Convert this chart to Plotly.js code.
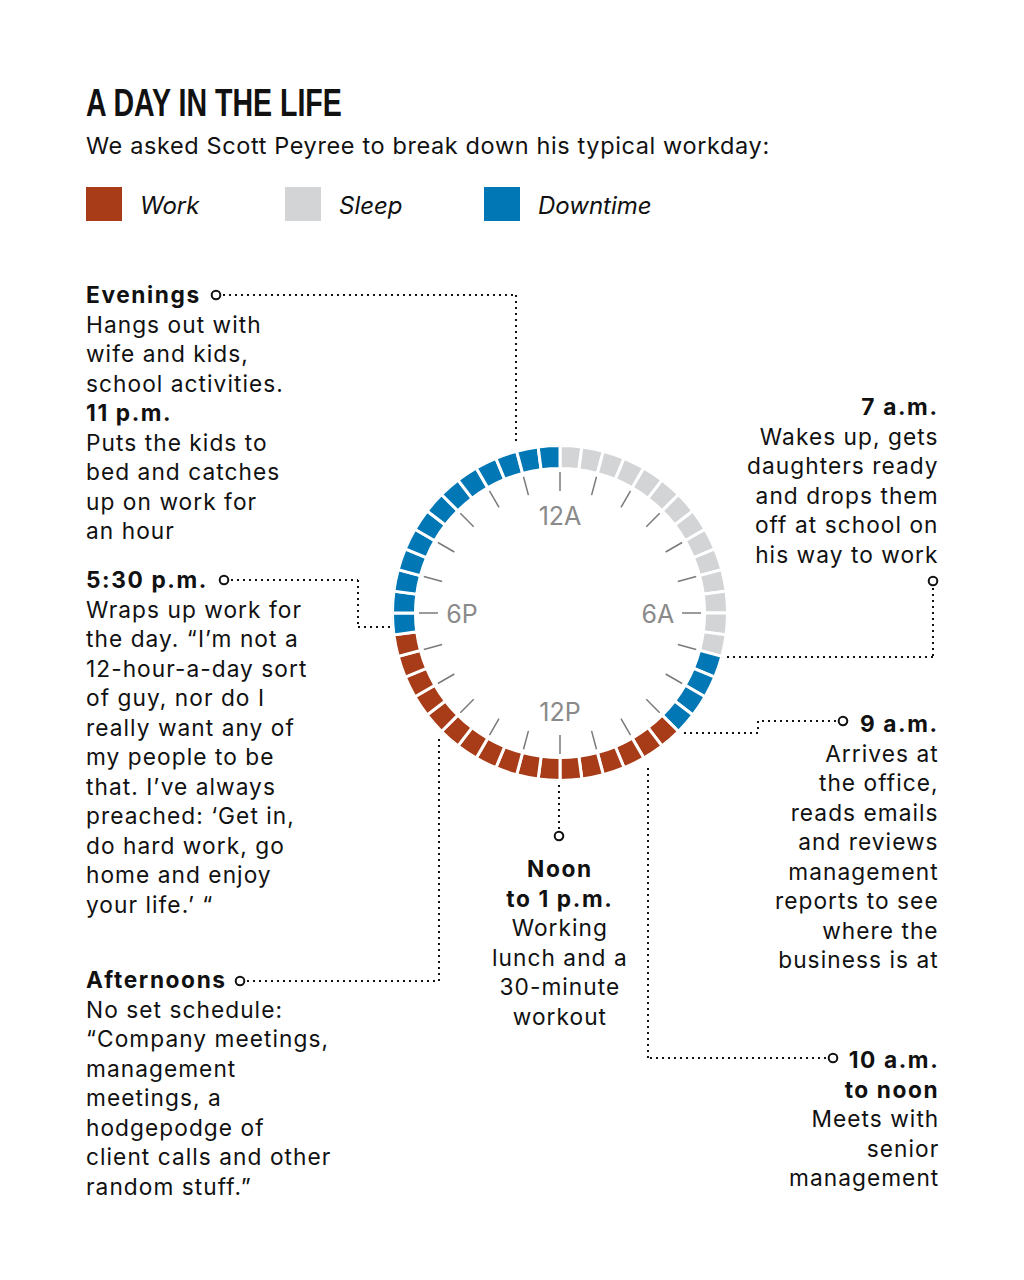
<!DOCTYPE html>
<html><head><meta charset="utf-8">
<script src="https://cdn.plot.ly/plotly-3.0.1.min.js"></script>
<style>
html,body{margin:0;padding:0;background:#fff}
#chart{width:1024px;height:1280px}
text.annotation-text[style*="font-size: 22.7px"]{letter-spacing:1.05px}
text.annotation-text[style*="font-size: 22.7px"] tspan[style*="bold"]{letter-spacing:1.6px}
text.annotation-text[style*="font-size: 23.5px"]{letter-spacing:0.62px}
</style>
</head><body><div id="chart"></div>
<script>
// ---------- DATA ----------
const categories = ["Work", "Sleep", "Downtime"];
const categoryColors = ["#a83c18", "#d3d4d6", "#0277b5"];

// 48 half-hour slots, start hour of each slot
const slotStart = [0,0.5,1,1.5,2,2.5,3,3.5,4,4.5,5,5.5,6,6.5,7,7.5,8,8.5,9,9.5,10,10.5,11,11.5,
                   12,12.5,13,13.5,14,14.5,15,15.5,16,16.5,17,17.5,18,18.5,19,19.5,20,20.5,21,21.5,22,22.5,23,23.5];
const slotActivity = [
  "Sleep","Sleep","Sleep","Sleep","Sleep","Sleep","Sleep","Sleep","Sleep","Sleep","Sleep","Sleep","Sleep","Sleep",
  "Downtime","Downtime","Downtime","Downtime",
  "Work","Work","Work","Work","Work","Work","Work","Work","Work","Work","Work","Work","Work","Work","Work","Work","Work",
  "Downtime","Downtime","Downtime","Downtime","Downtime","Downtime","Downtime","Downtime","Downtime","Downtime","Downtime","Downtime","Downtime"
];
const tickHours = [0,1,2,3,4,5,6,7,8,9,10,11,12,13,14,15,16,17,18,19,20,21,22,23];
const hourLabelHours = [0, 6, 12, 18];
const hourLabels = ["12A", "6A", "12P", "6P"];

const titleText = "A DAY IN THE LIFE";
const subtitleText = "We asked Scott Peyree to break down his typical workday:";

const notes = {
  evenings: "<b>Evenings</b><br>Hangs out with<br>wife and kids,<br>school activities.<br><b>11 p.m.</b><br>Puts the kids to<br>bed and catches<br>up on work for<br>an hour",
  fivethirty: "<b>5:30 p.m.</b><br>Wraps up work for<br>the day. \u201cI\u2019m not a<br>12-hour-a-day sort<br>of guy, nor do I<br>really want any of<br>my people to be<br>that. I\u2019ve always<br>preached: \u2018Get in,<br>do hard work, go<br>home and enjoy<br>your life.\u2019 \u201c",
  afternoons: "<b>Afternoons</b><br>No set schedule:<br>\u201cCompany meetings,<br>management<br>meetings, a<br>hodgepodge of<br>client calls and other<br>random stuff.\u201d",
  seven: "<b>7 a.m.</b><br>Wakes up, gets<br>daughters ready<br>and drops them<br>off at school on<br>his way to work",
  nine: "<b>9 a.m.</b><br>Arrives at<br>the office,<br>reads emails<br>and reviews<br>management<br>reports to see<br>where the<br>business is at",
  ten: "<b>10 a.m.</b><br><b>to noon</b><br>Meets with<br>senior<br>management",
  noon: "<b>Noon</b><br><b>to 1 p.m.</b><br>Working<br>lunch and a<br>30-minute<br>workout"
};

// ---------- LAYOUT HELPERS ----------
const W = 1024, H = 1280;
const px = x => x / W;
const py = y => 1 - y / H;
const CX = 560, CY = 613, R = 168;
const FONT = "Inter, 'Noto Sans', Roboto, sans-serif";
const INK = "#111111";

const colorOf = a => categoryColors[categories.indexOf(a)];

// ---------- TRACES ----------
const bars = {
  type: "barpolar",
  theta: slotStart.map(h => (h + 0.25) * 15),
  r: slotStart.map(() => 23),
  base: 144.5,
  width: slotStart.map(() => 7.5),
  marker: { color: slotActivity.map(colorOf), line: { color: "#ffffff", width: 3 } },
  hoverinfo: "skip",
  showlegend: false
};

const tr = [], tt = [];
tickHours.forEach(h => { tr.push(122, 141, null); tt.push(h * 15, h * 15, null); });
const ticks = {
  type: "scatterpolar", mode: "lines", r: tr, theta: tt,
  line: { color: "#7a7a7a", width: 1.5 }, hoverinfo: "skip", showlegend: false
};

const labels = {
  type: "scatterpolar", mode: "text",
  r: hourLabelHours.map(() => 98), theta: hourLabelHours.map(h => h * 15),
  text: hourLabels, textposition: "middle center",
  textfont: { family: FONT, size: 25, color: "#8a8a8a" },
  hoverinfo: "skip", showlegend: false
};

// ---------- SHAPES ----------
const shapes = [];
const DOT = { color: INK, width: 2, dash: "2px,4px" };
function polyline(pts) {
  for (let i = 0; i < pts.length - 1; i++) {
    shapes.push({ type: "line", xref: "paper", yref: "paper",
      x0: px(pts[i][0]), y0: py(pts[i][1]), x1: px(pts[i+1][0]), y1: py(pts[i+1][1]), line: DOT });
  }
}
function ring(x, y) {
  shapes.push({ type: "circle", xref: "paper", yref: "paper",
    x0: px(x - 4.3), x1: px(x + 4.3), y0: py(y + 4.3), y1: py(y - 4.3),
    line: { color: INK, width: 2 }, fillcolor: "#ffffff" });
}
// connectors
polyline([[223, 295], [516, 295], [516, 442]]); ring(216, 295);
polyline([[231, 580], [358, 580], [358, 627], [392, 627]]); ring(224, 580);
polyline([[933, 588], [933, 657], [725, 657]]); ring(933, 581);
polyline([[836, 721], [758, 721], [758, 733], [682, 733]]); ring(843, 721);
polyline([[559, 785], [559, 829]]); ring(559, 836);
polyline([[826, 1058], [648, 1058], [648, 765]]); ring(833, 1058);
polyline([[247, 981], [439, 981], [439, 737]]); ring(240, 981);

// legend swatches
const legendX = [86, 285, 484];
categories.forEach((c, i) => {
  shapes.push({ type: "rect", xref: "paper", yref: "paper",
    x0: px(legendX[i]), x1: px(legendX[i] + 36), y0: py(221), y1: py(187),
    line: { width: 0 }, fillcolor: categoryColors[i] });
});

// ---------- ANNOTATIONS ----------
const BODY = { family: FONT, size: 22.7, color: INK };
const ann = [];
function note(text, x, y, xanchor, align) {
  ann.push({ xref: "paper", yref: "paper", x: px(x), y: py(y), xanchor, yanchor: "middle",
    align, text, showarrow: false, font: BODY, borderpad: 0 });
}
ann.push({ xref: "paper", yref: "paper", x: px(84), y: py(145), xanchor: "left", yanchor: "middle",
  text: subtitleText, showarrow: false, font: { family: FONT, size: 23.5, color: INK } });
categories.forEach((c, i) => {
  ann.push({ xref: "paper", yref: "paper", x: px(legendX[i] + 52), y: py(205), xanchor: "left", yanchor: "middle",
    text: c, showarrow: false, font: { family: FONT, size: 24, color: INK, style: "italic" } });
});
note(notes.evenings, 85, 412, "left", "left");
note(notes.fivethirty, 85, 742, "left", "left");
note(notes.afternoons, 85, 1082.5, "left", "left");
note(notes.seven, 940, 480, "right", "right");
note(notes.nine, 940, 841.5, "right", "right");
note(notes.ten, 940, 1118, "right", "right");
note(notes.noon, 560, 942, "center", "center");

const layout = {
  width: W, height: H,
  margin: { l: 0, r: 0, t: 0, b: 0 },
  paper_bgcolor: "#ffffff",
  showlegend: false,
  dragmode: false,
  title: { text: titleText, x: px(86), xanchor: "left", xref: "paper", y: py(102), yanchor: "middle", yref: "paper",
    font: { family: "'Liberation Sans', Arial, sans-serif", size: 39, weight: 700, color: INK } },
  polar: {
    domain: { x: [px(CX - R), px(CX + R)], y: [py(CY + R), py(CY - R)] },
    bgcolor: "rgba(0,0,0,0)",
    radialaxis: { range: [0, R], visible: false, showgrid: false },
    angularaxis: { rotation: 90, direction: "clockwise", visible: false, showgrid: false, thetaunit: "degrees" },
    barmode: "overlay"
  },
  shapes, annotations: ann
};

Plotly.newPlot("chart", [bars, ticks, labels], layout, { staticPlot: true, displayModeBar: false }).then(gd => {
  // condense the headline horizontally to mimic the narrow display face
  const t = gd.querySelector(".gtitle");
  if (t) {
    const bb = t.getBBox();
    const sx = 256 / bb.width;
    const x0 = bb.x;
    const prev = t.getAttribute("transform") || "";
    t.setAttribute("transform", `${prev} translate(${x0},0) scale(${sx},1) translate(${-x0},0)`);
  }
  // nudge hour labels so their visual centre sits on the anchor point
  gd.querySelectorAll(".polarlayer .textpoint").forEach(g => {
    const prev = g.getAttribute("transform") || "";
    g.setAttribute("transform", `${prev} translate(0,3.5)`);
  });
});
</script>
</body></html>
